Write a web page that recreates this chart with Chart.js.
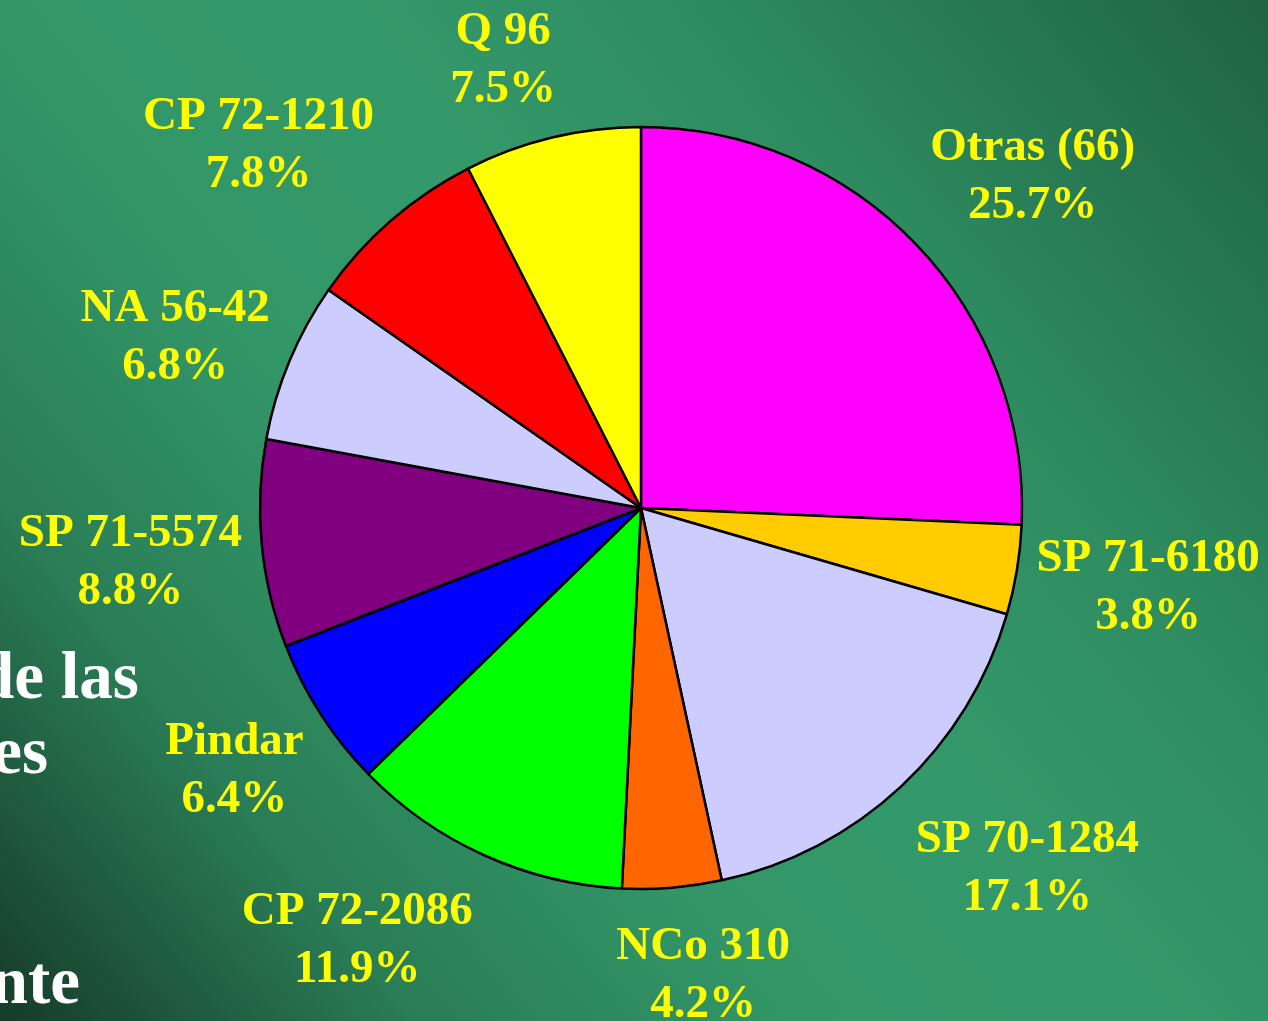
<!DOCTYPE html>
<html>
<head>
<meta charset="utf-8">
<script src="https://cdn.jsdelivr.net/npm/chart.js@4.4.1/dist/chart.umd.min.js"></script>
<style>
    html, body { margin: 0; padding: 0; overflow: hidden; }
    #torte { display: block; }
</style>
</head>
<body>
<canvas id="torte" width="1268" height="1021"></canvas>
<script>
// --- Daten ---
const sorten = ["Otras (66)", "SP 71-6180", "SP 70-1284", "NCo 310", "CP 72-2086",
                "Pindar", "SP 71-5574", "NA 56-42", "CP 72-1210", "Q 96"];
const anteile = [25.7, 3.8, 17.1, 4.2, 11.9, 6.4, 8.8, 6.8, 7.8, 7.5];
const farben = ["#FF00FF", "#FFCC00", "#CCCCFF", "#FF6600", "#00FF00",
                "#0000FF", "#800080", "#CCCCFF", "#FF0000", "#FFFF00"];

// Text links (abgeschnittener Folientitel)
const titelReste = ["de las", "es", "nte"];

// --- Layout der Beschriftungen (Verschiebung ab Standardposition) ---
const labelAbstand = 1.325;
const labelVerschiebung = [
    [27, 18], [9, -2], [42, -8], [21, -35], [-76, -27],
    [18, -10], [-8, 7], [0, 25], [-51, 19], [-20, 44]
];

// --- Hintergrund + Titelreste ---
const hintergrund = {
    id: "hintergrund",
    beforeDraw(chart) {
        const ctx = chart.ctx;
        const w = chart.width, h = chart.height;
        const g = ctx.createLinearGradient(w, 0, 0, h);
        g.addColorStop(0, "#1f6443");
        g.addColorStop(0.28, "#2e8c60");
        g.addColorStop(0.45, "#34996a");
        g.addColorStop(0.62, "#329667");
        g.addColorStop(0.8, "#2a7d56");
        g.addColorStop(1, "#163b29");
        ctx.save();
        ctx.fillStyle = g;
        ctx.fillRect(0, 0, w, h);

        ctx.fillStyle = "#FFFFFF";
        ctx.font = "bold 67px 'Liberation Serif', 'Times New Roman', serif";
        ctx.textBaseline = "alphabetic";
        ctx.textAlign = "left";
        ctx.fillText(titelReste[0], -23, 698);
        ctx.textAlign = "right";
        ctx.fillText(titelReste[1], 48, 773);
        ctx.fillText(titelReste[2], 80, 1003);
        ctx.restore();
    }
};

// --- Beschriftungen der Tortenstücke ---
const beschriftung = {
    id: "beschriftung",
    afterDatasetsDraw(chart) {
        const ctx = chart.ctx;
        const meta = chart.getDatasetMeta(0);
        ctx.save();
        ctx.fillStyle = "#FFFF00";
        ctx.font = "bold 47px 'Liberation Serif', 'Times New Roman', serif";
        ctx.textAlign = "center";
        ctx.textBaseline = "middle";
        meta.data.forEach((arc, i) => {
            const p = arc.getProps(["x", "y", "startAngle", "endAngle", "outerRadius"], true);
            const mitte = (p.startAngle + p.endAngle) / 2;
            const r = p.outerRadius * labelAbstand;
            const x = p.x + Math.cos(mitte) * r + labelVerschiebung[i][0];
            const y = p.y + Math.sin(mitte) * r + labelVerschiebung[i][1];
            ctx.fillText(sorten[i], x, y - 29);
            ctx.fillText(anteile[i].toFixed(1) + "%", x, y + 29);
        });
        ctx.restore();
    }
};

// --- Diagramm ---
new Chart(document.getElementById("torte"), {
    type: "pie",
    data: {
        labels: sorten,
        datasets: [{
            data: anteile,
            backgroundColor: farben,
            borderColor: "#000000",
            borderWidth: 2.5,
            borderAlign: "center",
            hoverOffset: 0,
            radius: 381
        }]
    },
    options: {
        responsive: false,
        devicePixelRatio: 1,
        animation: false,
        layout: { padding: { left: 20, right: 6, top: 0, bottom: 5 } },
        plugins: {
            legend: { display: false },
            tooltip: { enabled: false }
        }
    },
    plugins: [hintergrund, beschriftung]
});
</script>
</body>
</html>
